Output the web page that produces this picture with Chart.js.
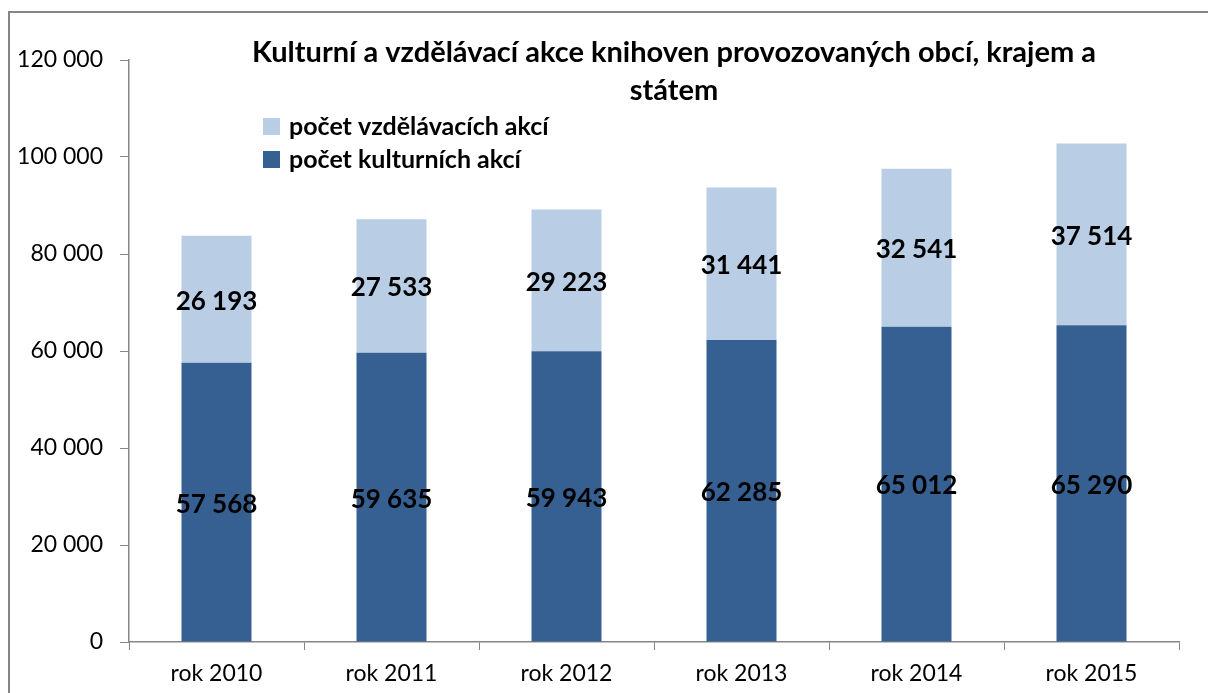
<!DOCTYPE html>
<html>
<head>
<meta charset="utf-8">
<style>
  body { margin: 0; background: #fff; }
  canvas { display: block; }
</style>
</head>
<body>
<script src="https://cdn.jsdelivr.net/npm/chart.js@4.4.1/dist/chart.umd.min.js"></script>
<canvas id="chart" width="1208" height="693"></canvas>
<script>
const years = ["rok 2010", "rok 2011", "rok 2012", "rok 2013", "rok 2014", "rok 2015"];
const kulturni = [57568, 59635, 59943, 62285, 65012, 65290];
const vzdelavaci = [26193, 27533, 29223, 31441, 32541, 37514];
const titleLines = ["Kulturní a vzdělávací akce knihoven provozovaných obcí, krajem a", "státem"];

function fmt(v) {
    return String(v).replace(/\B(?=(\d{3})+(?!\d))/g, " ");
}

const frame = {
    id: "frame",
    beforeDraw(chart) {
        const ctx = chart.ctx;
        ctx.save();
        ctx.fillStyle = "#fff";
        ctx.fillRect(0, 0, chart.width, chart.height);
        ctx.strokeStyle = "#868686";
        ctx.lineWidth = 2;
        ctx.strokeRect(9, 12, 1400, 1000);
        ctx.restore();
    }
};

const labels = {
    id: "labels",
    afterDatasetsDraw(chart) {
        const ctx = chart.ctx;
        ctx.save();
        ctx.font = "bold 26px Lato";
        ctx.fillStyle = "#000";
        ctx.textAlign = "center";
        ctx.textBaseline = "middle";
        chart.data.datasets.forEach((ds, i) => {
            chart.getDatasetMeta(i).data.forEach((bar, j) => {
                ctx.fillText(fmt(ds.data[j]), bar.x, (bar.y + bar.base) / 2 + 2);
            });
        });
        ctx.restore();
    }
};

const header = {
    id: "header",
    afterDraw(chart) {
        const ctx = chart.ctx;
        ctx.save();
        ctx.fillStyle = "#000";
        ctx.textBaseline = "middle";
        ctx.textAlign = "center";
        ctx.font = "bold 29px Lato";
        titleLines.forEach((t, i) => ctx.fillText(t, 674, 53 + i * 38));
        // legend, top entry is the upper stack
        ctx.textAlign = "left";
        ctx.font = "bold 25px Lato";
        const ds = chart.data.datasets.slice().reverse();
        ds.forEach((d, i) => {
            const y = 127 + i * 33;
            ctx.fillStyle = d.backgroundColor;
            ctx.fillRect(263, y - 9, 17, 17);
            ctx.fillStyle = "#000";
            ctx.fillText(d.label, 289, y);
        });
        ctx.restore();
    }
};

new Chart(document.getElementById("chart"), {
    type: "bar",
    data: {
        labels: years,
        datasets: [
            { label: "počet kulturních akcí", data: kulturni, backgroundColor: "#376092" },
            { label: "počet vzdělávacích akcí", data: vzdelavaci, backgroundColor: "#b9cde5" }
        ]
    },
    plugins: [frame, labels, header],
    options: {
        responsive: false,
        animation: false,
        layout: { padding: { top: 60, right: 29, left: 0, bottom: 0 } },
        plugins: {
            legend: { display: false },
            title: { display: false },
            tooltip: { enabled: false }
        },
        datasets: {
            bar: { categoryPercentage: 1, barPercentage: 0.4 }
        },
        scales: {
            x: {
                stacked: true,
                afterFit(s) { s.height = 51; },
                grid: { offset: true, drawOnChartArea: false, tickLength: 8, color: "#868686" },
                border: { color: "#868686", width: 1.5 },
                ticks: { color: "#000", font: { family: "Lato", size: 23 }, padding: 10 }
            },
            y: {
                stacked: true,
                min: 0,
                max: 120000,
                afterFit(s) { s.width = 129; },
                grid: { drawOnChartArea: false, tickLength: 9, color: "#868686" },
                border: { color: "#868686", width: 1.5 },
                ticks: {
                    stepSize: 20000,
                    color: "#000",
                    font: { family: "Lato", size: 23 },
                    padding: 17,
                    callback: v => fmt(v)
                }
            }
        }
    }
});
</script>
</body>
</html>
